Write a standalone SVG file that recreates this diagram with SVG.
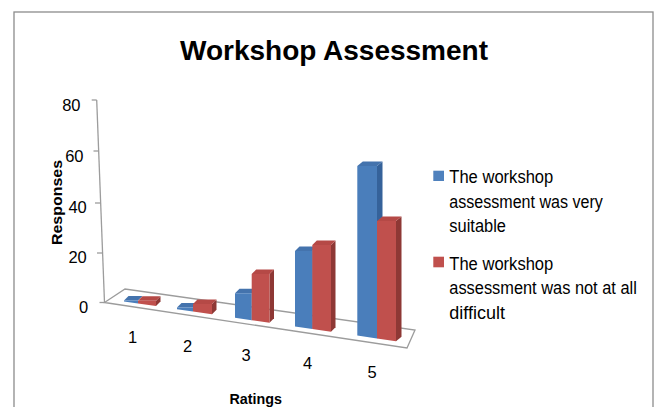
<svg xmlns="http://www.w3.org/2000/svg" width="656" height="407" viewBox="0 0 656 407">
<style>
  .txt { font-family: "Liberation Sans", Arial, sans-serif; fill: #000; }
  .b { font-weight: bold; }
  .tick { font-size: 16.5px; }
  .leg { font-size: 17.5px; }
  .ax { stroke: #9c9c9c; stroke-width: 1.3; fill: none; }
  .bf { fill: #4A7EBB; }
  .bt { fill: #4473AD; }
  .bs { fill: #35629A; }
  .rf { fill: #C0504D; }
  .rt { fill: #B54946; }
  .rs { fill: #8E3835; }
</style>
<rect x="0" y="0" width="656" height="407" fill="#fff"/>
<g id="frame">
  <rect x="14" y="12" width="639" height="420" fill="#fff" stroke="#8c8c8c" stroke-width="1.3"/>
</g>
<g id="title">
  <text class="txt b" x="180" y="60" font-size="28.5" textLength="308" lengthAdjust="spacingAndGlyphs">Workshop Assessment</text>
</g>
<g id="y-axis">
  <line class="ax" x1="96.7" y1="100" x2="104.5" y2="302.5"/>
  <line class="ax" x1="91.7" y1="100" x2="96.7" y2="100"/>
  <line class="ax" x1="93.5" y1="151" x2="98.7" y2="151"/>
  <line class="ax" x1="95" y1="203" x2="100.7" y2="203"/>
  <line class="ax" x1="97" y1="253" x2="102.6" y2="253"/>
  <line class="ax" x1="99.5" y1="302.5" x2="104.5" y2="302.5"/>
  <text class="txt tick" x="80.5" y="110.7" text-anchor="end">80</text>
  <text class="txt tick" x="83.5" y="161.7" text-anchor="end">60</text>
  <text class="txt tick" x="86.8" y="213.3" text-anchor="end">40</text>
  <text class="txt tick" x="86.8" y="263.3" text-anchor="end">20</text>
  <text class="txt tick" x="88.3" y="313.3" text-anchor="end">0</text>
  <text class="txt b" font-size="15" transform="translate(61.5,202.5) rotate(-90)" text-anchor="middle" textLength="85" lengthAdjust="spacingAndGlyphs">Responses</text>
</g>
<g id="floor">
  <polygon class="ax" fill="#fff" points="104.5,302.5 125,289 415,330 407,348"/>
</g>
<g id="connectors"></g>
<g id="bars-1">
  <polygon class="bt" points="124,300.4 128.5,295.9 142.5,295.9 138,300.4"/>
  <polygon class="bf" points="124,300.4 138,300.4 138,303.4 124,301.4"/>
  <polygon class="rs" points="156,300.7 160.5,296.2 160.5,301.5 156,306"/>
  <polygon class="rt" points="138,300.7 142.5,296.2 160.5,296.2 156,300.7"/>
  <polygon class="rf" points="138,300.7 156,300.7 156,306 138,303.4"/>
</g>
<g id="bars-2">
  <polygon class="bt" points="177,307.5 181.5,303 197.5,303 193,307.5"/>
  <polygon class="bf" points="177,307.5 193,307.5 193,311.5 177,309.2"/>
  <polygon class="rs" points="212,304 216.5,299.5 216.5,309.8 212,314.3"/>
  <polygon class="rt" points="193,304 197.5,299.5 216.5,299.5 212,304"/>
  <polygon class="rf" points="193,304 212,304 212,314.3 193,311.5"/>
</g>
<g id="bars-3">
  <polygon class="bs" points="251.7,293.3 256.2,288.8 256.2,315.7 251.7,320.2"/>
  <polygon class="bt" points="235,293.3 239.5,288.8 256.2,288.8 251.7,293.3"/>
  <polygon class="bf" points="235,293.3 251.7,293.3 251.7,320.2 235,317.7"/>
  <polygon class="rs" points="269.5,274 274,269.5 274,318.3 269.5,322.8"/>
  <polygon class="rt" points="251.7,274 256.2,269.5 274,269.5 269.5,274"/>
  <polygon class="rf" points="251.7,274 269.5,274 269.5,322.8 251.7,320.2"/>
</g>
<g id="bars-4">
  <polygon class="bs" points="312.3,251 316.8,246.5 316.8,324.5 312.3,329"/>
  <polygon class="bt" points="295,251 299.5,246.5 316.8,246.5 312.3,251"/>
  <polygon class="bf" points="295,251 312.3,251 312.3,329 295,326.5"/>
  <polygon class="rs" points="331,245 335.5,240.5 335.5,327.3 331,331.8"/>
  <polygon class="rt" points="312.3,245 316.8,240.5 335.5,240.5 331,245"/>
  <polygon class="rf" points="312.3,245 331,245 331,331.8 312.3,329"/>
</g>
<g id="bars-5">
  <polygon class="bs" points="377,166 382.5,161.5 382.5,334 377,338.5"/>
  <polygon class="bt" points="357.3,166 362.8,161.5 382.5,161.5 377,166"/>
  <polygon class="bf" points="357.3,166 377,166 377,338.5 357.3,335.6"/>
  <polygon class="rs" points="396,221 401.5,216.5 401.5,336.8 396,341.3"/>
  <polygon class="rt" points="377,221 382.5,216.5 401.5,216.5 396,221"/>
  <polygon class="rf" points="377,221 396,221 396,341.3 377,338.5"/>
</g>
<g id="x-axis">
  <text class="txt tick" x="132.5" y="343" text-anchor="middle">1</text>
  <text class="txt tick" x="187.5" y="352" text-anchor="middle">2</text>
  <text class="txt tick" x="246" y="361" text-anchor="middle">3</text>
  <text class="txt tick" x="307.5" y="369" text-anchor="middle">4</text>
  <text class="txt tick" x="372" y="378" text-anchor="middle">5</text>
  <text class="txt b" font-size="15.5" x="229.5" y="404" textLength="52.5" lengthAdjust="spacingAndGlyphs">Ratings</text>
</g>
<g id="legend-suitable">
  <rect x="433.3" y="170.7" width="10.7" height="10.3" fill="#4F81BD"/>
  <text class="txt leg" x="449.3" y="183.3" textLength="104" lengthAdjust="spacingAndGlyphs">The workshop</text>
  <text class="txt leg" x="449.3" y="207.7" textLength="153.5" lengthAdjust="spacingAndGlyphs">assessment was very</text>
  <text class="txt leg" x="449.3" y="232.3" textLength="56.7" lengthAdjust="spacingAndGlyphs">suitable</text>
</g>
<g id="legend-difficult">
  <rect x="433.3" y="256.7" width="10.7" height="10.6" fill="#C0504D"/>
  <text class="txt leg" x="449.3" y="269.7" textLength="104" lengthAdjust="spacingAndGlyphs">The workshop</text>
  <text class="txt leg" x="449.3" y="294.3" textLength="187.5" lengthAdjust="spacingAndGlyphs">assessment was not at all</text>
  <text class="txt leg" x="449.3" y="318.7" textLength="55.7" lengthAdjust="spacingAndGlyphs">difficult</text>
</g>
</svg>
